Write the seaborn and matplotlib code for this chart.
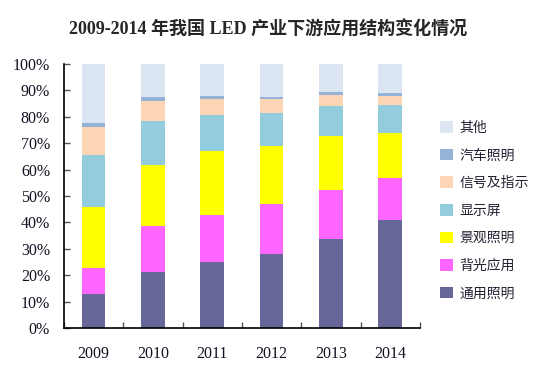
import numpy as np
import matplotlib
matplotlib.use('Agg')
import matplotlib.pyplot as plt
import seaborn as sns
from matplotlib.patches import Patch
from matplotlib.ticker import MultipleLocator, FuncFormatter

sns.set_style('ticks')
plt.rcParams['font.family'] = ['Liberation Serif', 'Noto Sans CJK SC']

years = ['2009', '2010', '2011', '2012', '2013', '2014']
series = ['通用照明', '背光应用', '景观照明', '显示屏', '信号及指示', '汽车照明', '其他']
colors = ['#666699', '#FF66FF', '#FFFF00', '#93CDDD', '#FCD5B5', '#95B3D7', '#DCE6F2']

general = [13.0, 21.1, 25.0, 28.0, 33.7, 41.0]
backlight = [9.8, 17.7, 17.7, 19.1, 18.6, 15.9]
landscape = [23.0, 22.9, 24.3, 21.7, 20.4, 17.0]
display = [19.7, 16.8, 13.7, 12.8, 11.5, 10.7]
signal = [10.6, 7.6, 6.2, 5.3, 4.1, 3.2]
auto = [1.5, 1.5, 0.9, 0.7, 1.2, 1.2]
others = [22.4, 12.4, 12.2, 12.4, 10.5, 11.0]

values = [general, backlight, landscape, display, signal, auto, others]

fig = plt.figure(figsize=(5.37, 3.65), dpi=100)
ax = fig.add_axes([0.119, 0.1014, 0.663, 0.7233])

bottom = np.zeros(len(years))
for name, vals, c in zip(series, values, colors):
    sns.barplot(x=years, y=vals, bottom=bottom, color=c, width=0.4,
                saturation=1, ax=ax, linewidth=0)
    bottom = bottom + np.array(vals)

ax.set_ylim(0, 100)
ax.set_xlim(-0.5, len(years) - 0.5)
ax.yaxis.set_major_locator(MultipleLocator(10))
ax.yaxis.set_major_formatter(FuncFormatter(lambda v, p: f'{v:.0f}%'))
ax.set_xticks(np.arange(len(years)))
ax.set_xticklabels(years)
ax.set_xticks(np.arange(len(years) + 1) - 0.5, minor=True)
ax.tick_params(axis='x', which='major', length=0, pad=13, labelsize=11.5, labelcolor='#111122')
ax.tick_params(axis='x', which='minor', length=4, direction='in', width=1, color='#555555')
ax.tick_params(axis='y', length=4, direction='in', width=1, pad=10, labelsize=11.5,
               labelcolor='#111122', color='#555555')
for s in ['top', 'right']:
    ax.spines[s].set_visible(False)
for s in ['left', 'bottom']:
    ax.spines[s].set_linewidth(1.2)
    ax.spines[s].set_color('black')
ax.set_xlabel('')
ax.set_ylabel('')

handles = [Patch(facecolor=c, edgecolor='none', label=n) for n, c in zip(series, colors)]
handles = handles[::-1]
leg = fig.legend(handles=handles, loc='center left', bbox_to_anchor=(0.797, 0.423),
                 frameon=False, handlelength=0.9, handleheight=0.9,
                 labelspacing=0.98, handletextpad=0.45,
                 prop={'family': ['Noto Sans CJK SC'], 'size': 10})
for t in leg.get_texts():
    t.set_color('#222233')

fig.text(0.5, 0.92, '2009-2014 年我国 LED 产业下游应用结构变化情况', ha='center', va='center',
         fontsize=13, fontweight='bold')

fig.savefig('out.png', dpi=100)
